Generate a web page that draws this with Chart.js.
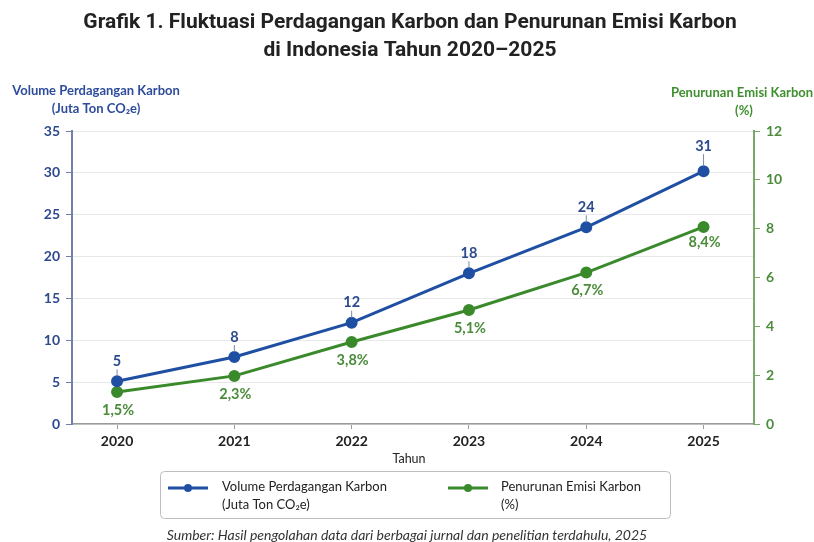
<!DOCTYPE html>
<html>
<head>
<meta charset="utf-8">
<script src="https://cdn.jsdelivr.net/npm/chart.js@4.4.1/dist/chart.umd.min.js"></script>
<style>
  html, body { margin: 0; padding: 0; background: #ffffff; }
  #wrap { width: 814px; height: 542px; position: relative; }
</style>
</head>
<body>
<div id="wrap"><canvas id="c" width="814" height="542"></canvas></div>
<script>
// ---- data ----
const years = [2020, 2021, 2022, 2023, 2024, 2025];
const volumeValues = [5.1, 8.0, 12.1, 18.0, 23.5, 30.2];
const volumeLabels = ['5', '8', '12', '18', '24', '31'];
const emisiValues = [1.31, 1.97, 3.36, 4.67, 6.2, 8.07];
const emisiLabels = ['1,5%', '2,3%', '3,8%', '5,1%', '6,7%', '8,4%'];
const leftTicks = [0, 5, 10, 15, 20, 25, 30, 35];
const rightTicks = [0, 2, 4, 6, 8, 10, 12];

const titleLines = ['Grafik 1. Fluktuasi Perdagangan Karbon dan Penurunan Emisi Karbon', 'di Indonesia Tahun 2020\u20132025'];
const leftTitle = ['Volume Perdagangan Karbon', '(Juta Ton CO\u2082e)'];
const rightTitle = ['Penurunan Emisi Karbon', '(%)'];
const xTitle = 'Tahun';
const legendItems = [
  ['Volume Perdagangan Karbon', '(Juta Ton CO\u2082e)'],
  ['Penurunan Emisi Karbon', '(%)']
];
const sourceText = 'Sumber: Hasil pengolahan data dari berbagai jurnal dan penelitian terdahulu, 2025';

const BLUE = '#1f4fa3';
const BLUE_TXT = '#2c4a8c';
const GREEN = '#3a8a2c';
const GREEN_TXT = '#4a8c3a';
const FONT = 'Lato, "Open Sans", "DejaVu Sans", sans-serif';

const textPlugin = {
  id: 'texts',
  afterDraw(chart) {
    const ctx = chart.ctx;
    ctx.save();
    ctx.textBaseline = 'middle';
    // title
    ctx.fillStyle = '#222222';
    ctx.textAlign = 'center';
    ctx.font = 'bold 21px "Liberation Sans Narrow", "Roboto", sans-serif';
    ctx.fillText(titleLines[0], 410, 23);
    ctx.fillText(titleLines[1], 410, 51);
    // left axis title
    ctx.font = 'bold 13px ' + FONT;
    ctx.fillStyle = '#2d4c9c';
    ctx.fillText(leftTitle[0], 96, 91);
    ctx.fillText(leftTitle[1], 96, 109);
    // right axis title
    ctx.fillStyle = '#3f8f2f';
    ctx.fillText(rightTitle[0], 742, 93);
    ctx.fillText(rightTitle[1], 744, 111);
    // x title
    ctx.fillStyle = '#222222';
    ctx.font = '12.5px ' + FONT;
    ctx.fillText(xTitle, 409, 459);
    // legend box
    ctx.strokeStyle = '#bdbdbd';
    ctx.lineWidth = 1;
    ctx.beginPath();
    ctx.roundRect(160.5, 471.5, 510, 47, 4);
    ctx.stroke();
    const lg = [[168, 208, BLUE, 222], [448, 488, GREEN, 501]];
    lg.forEach((l, i) => {
      ctx.strokeStyle = l[2];
      ctx.lineWidth = 3;
      ctx.beginPath();
      ctx.moveTo(l[0], 488); ctx.lineTo(l[1], 488); ctx.stroke();
      ctx.fillStyle = l[2];
      ctx.beginPath();
      ctx.arc((l[0] + l[1]) / 2, 488, 4, 0, Math.PI * 2);
      ctx.fill();
      ctx.fillStyle = '#222222';
      ctx.textAlign = 'left';
      ctx.font = '13px ' + FONT;
      ctx.fillText(legendItems[i][0], l[3], 487);
      ctx.fillText(legendItems[i][1], l[3], 505);
    });
    // source
    ctx.textAlign = 'center';
    ctx.font = 'italic 14px ' + FONT;
    ctx.fillStyle = '#333333';
    ctx.fillText(sourceText, 407, 535);
    ctx.restore();
  }
};

const labelPlugin = {
  id: 'pointLabels',
  afterDatasetsDraw(chart) {
    const ctx = chart.ctx;
    ctx.save();
    ctx.textAlign = 'center';
    ctx.textBaseline = 'middle';
    ctx.font = 'bold 14.5px ' + FONT;
    const m0 = chart.getDatasetMeta(0);
    m0.data.forEach((pt, i) => {
      const off = i === 5 ? 25 : 20;
      ctx.strokeStyle = '#7a8aa8';
      ctx.lineWidth = 1;
      ctx.beginPath();
      ctx.moveTo(pt.x, pt.y - off + 8);
      ctx.lineTo(pt.x, pt.y - 5);
      ctx.stroke();
      ctx.fillStyle = BLUE_TXT;
      ctx.fillText(volumeLabels[i], pt.x, pt.y - off);
    });
    const m1 = chart.getDatasetMeta(1);
    m1.data.forEach((pt, i) => {
      const off = i === 5 ? 15 : 18;
      ctx.fillStyle = GREEN_TXT;
      ctx.fillText(emisiLabels[i], pt.x + 1, pt.y + off);
    });
    ctx.restore();
  }
};

new Chart(document.getElementById('c'), {
  type: 'line',
  data: {
    datasets: [
      {
        label: legendItems[0].join(' '),
        data: years.map((y, i) => ({ x: y, y: volumeValues[i] })),
        yAxisID: 'y',
        borderColor: BLUE,
        backgroundColor: BLUE,
        borderWidth: 3,
        pointRadius: 4.5,
        pointHoverRadius: 4.5,
        tension: 0
      },
      {
        label: legendItems[1].join(' '),
        data: years.map((y, i) => ({ x: y, y: emisiValues[i] })),
        yAxisID: 'y1',
        borderColor: GREEN,
        backgroundColor: GREEN,
        borderWidth: 3,
        pointRadius: 4.5,
        pointHoverRadius: 4.5,
        tension: 0
      }
    ]
  },
  options: {
    responsive: false,
    animation: false,
    devicePixelRatio: 1,
    layout: { padding: { top: 131, bottom: 88, left: 0, right: 0 } },
    plugins: { legend: { display: false }, title: { display: false }, tooltip: { enabled: false } },
    scales: {
      x: {
        type: 'linear',
        min: 2019.616,
        max: 2025.43,
        afterBuildTicks(scale) { scale.ticks = years.map(v => ({ value: v })); },
        afterFit(scale) { scale.height = 30; },
        ticks: {
          callback: v => String(v),
          color: '#222222',
          font: { family: FONT, size: 14, weight: 'bold' },
          padding: 4,
          maxRotation: 0
        },
        grid: { drawOnChartArea: false, drawTicks: true, tickLength: 5, color: '#9a9a9a' },
        border: { display: true, color: '#9a9a9a', width: 1.5 }
      },
      y: {
        position: 'left',
        min: 0,
        max: 35,
        afterBuildTicks(scale) { scale.ticks = leftTicks.map(v => ({ value: v })); },
        afterFit(scale) { scale.width = 72; },
        ticks: {
          color: BLUE_TXT,
          font: { family: FONT, size: 14, weight: 'bold' },
          padding: 6
        },
        grid: { color: '#e8e8e8', lineWidth: 1, drawTicks: true, tickLength: 6, tickColor: '#7080a8' },
        border: { display: true, color: '#7080a8', width: 2 }
      },
      y1: {
        position: 'right',
        min: 0,
        max: 12,
        afterBuildTicks(scale) { scale.ticks = rightTicks.map(v => ({ value: v })); },
        afterFit(scale) { scale.width = 60; },
        ticks: {
          color: GREEN_TXT,
          font: { family: FONT, size: 14, weight: 'bold' },
          padding: 6
        },
        grid: { drawOnChartArea: false, drawTicks: true, tickLength: 6, tickColor: '#7aa86a' },
        border: { display: true, color: '#7aa86a', width: 2 }
      }
    }
  },
  plugins: [labelPlugin, textPlugin]
});
</script>
</body>
</html>
